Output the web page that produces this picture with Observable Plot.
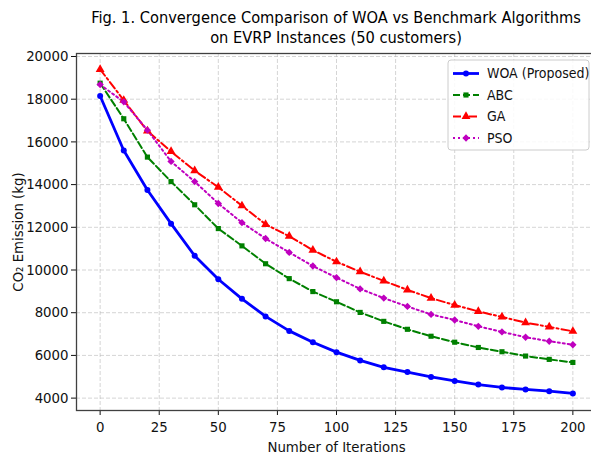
<!DOCTYPE html>
<html>
<head>
<meta charset="utf-8">
<script src="https://cdn.jsdelivr.net/npm/d3@7"></script>
<script src="https://cdn.jsdelivr.net/npm/@observablehq/plot@0.6"></script>
<style>
  body { margin: 0; background: #fff; }
  #wrap { position: relative; width: 591px; height: 455px; overflow: hidden; }
  #title { position: absolute; left: 76px; width: 520px; top: 8px; text-align: center;
    font-family: "DejaVu Sans Condensed", "DejaVu Sans", sans-serif; font-stretch: condensed;
    font-size: 16.3px; line-height: 20px; color: #000; }
  #chart { position: absolute; left: 0; top: 0; }
</style>
</head>
<body>
<div id="wrap">
  <div id="chart"></div>
  <div id="title">Fig. 1. Convergence Comparison of WOA vs Benchmark Algorithms<br>on EVRP Instances (50 customers)</div>
</div>
<script>
const iterations = [0,10,20,30,40,50,60,70,80,90,100,110,120,130,140,150,160,170,180,190,200];
const woa = [18150,15600,13750,12170,10665,9567,8651,7828,7149,6619,6153,5767,5442,5223,4990,4805,4637,4498,4405,4326,4220];
const abc = [18750,17083,15288,14140,13055,11940,11130,10293,9596,8990,8512,8014,7595,7223,6898,6619,6372,6172,5970,5814,5670];
const ga  = [19395,17950,16512,15550,14651,13876,13009,12140,11581,10930,10386,9921,9489,9070,8684,8358,8060,7800,7535,7335,7130];
const pso = [18683,17875,16550,15084,14140,13116,12219,11475,10823,10186,9642,9116,8684,8293,7921,7660,7363,7102,6851,6665,6498];
const seriesNames = ["WOA (Proposed)", "ABC", "GA", "PSO"];
const seriesValues = [woa, abc, ga, pso];
const xTicks = [0,25,50,75,100,125,150,175,200];
const yTicks = [4000,6000,8000,10000,12000,14000,16000,18000,20000];

const styles = {
  "WOA (Proposed)": {color: "#0000ff", width: 2.8, dash: null, symbol: "circle", r: 3},
  "ABC": {color: "#008000", width: 2, dash: "7,3", symbol: "square", r: 2.9},
  "GA": {color: "#ff0000", width: 2, dash: "8,3,2,3", symbol: "triangle", r: 3.3},
  "PSO": {color: "#bf00bf", width: 2, dash: "2,3", symbol: "diamond2", r: 3.3}
};
const d3Symbols = {circle: d3.symbolCircle, square: d3.symbolSquare, triangle: d3.symbolTriangle, diamond2: d3.symbolDiamond2};

const data = [];
seriesNames.forEach((name, i) => {
  iterations.forEach((it, j) => data.push({series: name, x: it, y: seriesValues[i][j]}));
});

const font = '"DejaVu Sans Condensed", "DejaVu Sans", sans-serif';
const marks = [
  Plot.gridX(xTicks, {stroke: "#b0b0b0", strokeOpacity: 0.6, strokeDasharray: "4,2", strokeWidth: 0.9}),
  Plot.gridY(yTicks, {stroke: "#b0b0b0", strokeOpacity: 0.6, strokeDasharray: "4,2", strokeWidth: 0.9}),
];
seriesNames.forEach(name => {
  const s = styles[name];
  const d = data.filter(v => v.series === name);
  marks.push(Plot.line(d, {x: "x", y: "y", stroke: s.color, strokeWidth: s.width, strokeDasharray: s.dash, curve: "linear"}));
});
seriesNames.forEach(name => {
  const s = styles[name];
  const d = data.filter(v => v.series === name);
  marks.push(Plot.dot(d, {x: "x", y: "y", fill: s.color, stroke: "none", symbol: s.symbol, r: s.r}));
});
marks.push(
  Plot.axisX(xTicks, {tickSize: 5, tickPadding: 6, tickFormat: d3.format("d"), label: "Number of Iterations", labelAnchor: "center", labelArrow: "none", labelOffset: 41, fontSize: 14.8}),
  Plot.axisY(yTicks, {tickSize: 5, tickPadding: 3, tickFormat: d3.format("d"), label: "CO₂ Emission (kg)", labelAnchor: "center", labelArrow: "none", labelOffset: 64, fontSize: 14.8}),
  Plot.frame({stroke: "#404040", strokeWidth: 1.3})
);

const chart = Plot.plot({
  width: 591,
  height: 455,
  marginTop: 53,
  marginBottom: 45,
  marginLeft: 76,
  marginRight: -5,
  style: {fontFamily: font, fontSize: "14.8px", color: "#111", background: "white"},
  x: {domain: [-10, 210], label: null},
  y: {domain: [3420, 20140], label: null},
  marks
});
document.getElementById("chart").appendChild(chart);

// Legend
const svg = d3.select(chart);
const lg = svg.append("g").attr("transform", "translate(448,60)")
  .attr("font-family", font).attr("font-size", 14).attr("text-anchor", "start");
lg.append("rect").attr("x", 0).attr("y", 0).attr("width", 141).attr("height", 90).attr("rx", 3)
  .attr("fill", "#ffffff").attr("fill-opacity", 0.85).attr("stroke", "#cccccc").attr("stroke-width", 1);
seriesNames.forEach((name, i) => {
  const s = styles[name];
  const cy = 13.5 + i * 21.5;
  lg.append("line").attr("x1", 5).attr("x2", 31).attr("y1", cy).attr("y2", cy)
    .attr("stroke", s.color).attr("stroke-width", s.width).attr("stroke-dasharray", s.dash);
  lg.append("path").attr("transform", `translate(18,${cy})`)
    .attr("d", d3.symbol(d3Symbols[s.symbol], Math.PI * s.r * s.r)())
    .attr("fill", s.color);
  lg.append("text").attr("x", 39).attr("y", cy).attr("dy", "0.35em").attr("fill", "#111")
    .attr("text-anchor", "start").text(name);
});
</script>
</body>
</html>
